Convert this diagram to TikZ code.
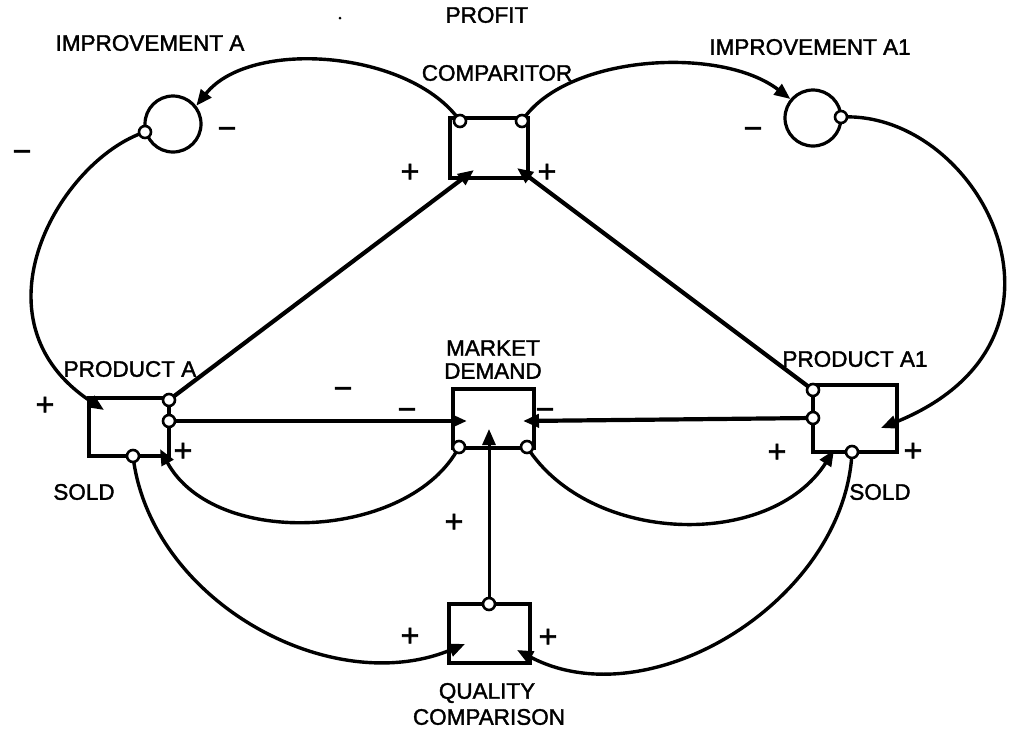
\documentclass[tikz,border=0pt]{standalone}
\usepackage{fontspec}
\setmainfont[FakeBold=1.6]{Liberation Sans}
\usetikzlibrary{arrows.meta}
\begin{document}
\begin{tikzpicture}[x=1pt,y=-1pt,
  box/.style={draw,line width=3.4pt,inner sep=0pt},
  conn/.style={line width=3.4pt,-{Triangle[length=16pt,width=13pt]}},
  thickconn/.style={conn,line width=4.2pt},
  port/.style={circle,draw,fill=white,line width=2.6pt,minimum size=12pt,inner sep=0pt},
  aux/.style={circle,draw,line width=3.2pt,minimum size=56pt,inner sep=0pt},
  lbl/.style={inner sep=0pt,font=\fontsize{22.5}{24}\selectfont},
  plus/.style={inner sep=0pt,font=\fontsize{32}{32}\selectfont},
  minus/.style={inner sep=0pt,font=\fontsize{32}{32}\selectfont}]
\useasboundingbox (0,0) rectangle (1009,732);
\fill[white] (0,0) rectangle (1009,732);

% stocks / converters
\node[box,minimum width=78pt,minimum height=60pt] (pc) at (489,148) {};
\node[box,minimum width=80pt,minimum height=58pt] (pa) at (129,427) {};
\node[box,minimum width=84pt,minimum height=67pt] (pa1) at (855,418.5) {};
\node[box,minimum width=81pt,minimum height=59pt] (md) at (493.5,418.5) {};
\node[box,minimum width=81pt,minimum height=59pt] (qc) at (489.5,633.5) {};
\node[aux] (ia) at (173,124) {};
\node[aux] (ia1) at (813,118) {};

% ports (sources)
\coordinate (pcL) at (460,121);
\coordinate (pcR) at (522,121);
\coordinate (iaS) at (145,132);
\coordinate (ia1S) at (841,117);
\coordinate (paT) at (169,400);
\coordinate (paM) at (169,421);
\coordinate (paB) at (133,456);
\coordinate (pa1T) at (813,390);
\coordinate (pa1M) at (813,418);
\coordinate (pa1B) at (852,452);
\coordinate (mdL) at (459,447);
\coordinate (mdR) at (527,447);
\coordinate (qcT) at (489,604);

% targets
\coordinate (paTL) at (104,410);
\coordinate (paBR) at (160,449);
\coordinate (mdLt) at (467,421);
\coordinate (mdRt) at (523,421);
\coordinate (mdBt) at (489,429);
\coordinate (pcBL) at (474,170);
\coordinate (pcBR) at (517,168);
\coordinate (pa1BL) at (834,450);
\coordinate (pa1Rt) at (881,428);
\coordinate (qcLt) at (465,644);
\coordinate (qcRt) at (517,650);

% connectors
\draw[conn] (pcL) .. controls (410,50) and (250,38) .. (ia.38);
\draw[conn] (pcR) .. controls (565,55) and (720,45) .. (ia1.140);
\draw[conn] (iaS) .. controls (60,160) and (-33,320) .. (paTL);
\draw[conn] (ia1S) .. controls (980,110) and (1100,340) .. (pa1Rt);
\draw[thickconn] (paT) -- (pcBL);
\draw[thickconn] (pa1T) -- (pcBR);
\draw[thickconn] (paM) -- (mdLt);
\draw[thickconn] (pa1M) -- (mdRt);
\draw[conn] (mdL) .. controls (410,540) and (215,550) .. (paBR);
\draw[conn] (mdR) .. controls (590,545) and (770,550) .. (pa1BL);
\draw[conn] (paB) .. controls (150,600) and (330,700) .. (qcLt);
\draw[conn] (pa1B) .. controls (845,600) and (650,720) .. (qcRt);
\draw[conn,line width=3pt] (qcT) -- (mdBt);

% port circles
\foreach \p in {pcL,pcR,iaS,ia1S,paT,paM,paB,pa1T,pa1M,pa1B,mdL,mdR,qcT}
  \node[port] (o\p) at (\p) {};

% labels
\node[lbl] (tIA) at (150,43) {IMPROVEMENT A};
\node[lbl] (tIA1) at (810,47) {IMPROVEMENT A1};
\node[lbl] (tPR) at (487,15) {PROFIT};
\node[lbl] (tCO) at (497,73) {COMPARITOR};
\node[lbl] (tMA) at (493,348) {MARKET};
\node[lbl] (tDE) at (493,371) {DEMAND};
\node[lbl] (tPA) at (130,369) {PRODUCT A};
\node[lbl] (tPA1) at (855,359) {PRODUCT\ A1};
\node[lbl] (tS1) at (84,492) {SOLD};
\node[lbl] (tS2) at (880,492) {SOLD};
\node[lbl] (tQU) at (487,693) {QUALITY};
\node[lbl] (tCM) at (489,717) {COMPARISON};

% signs
\node[plus] (p1) at (45,406) {+};
\node[plus] (p2) at (183,452) {+};
\node[plus] (p3) at (410,173) {+};
\node[plus] (p4) at (547,173) {+};
\node[plus] (p5) at (777,453) {+};
\node[plus] (p6) at (913,452) {+};
\node[plus] (p7) at (454,523) {+};
\node[plus] (p8) at (410,637) {+};
\node[plus] (p9) at (548,638) {+};
\node[minus] (m1) at (227,133) {−};
\node[minus] (m2) at (22,156) {−};
\node[minus] (m3) at (753,133) {−};
\node[minus] (m4) at (343,393) {−};
\node[minus] (m5) at (407,414) {−};
\node[minus] (m6) at (545,414) {−};

\fill (340,18) circle (1.5pt);
\end{tikzpicture}
\end{document}
